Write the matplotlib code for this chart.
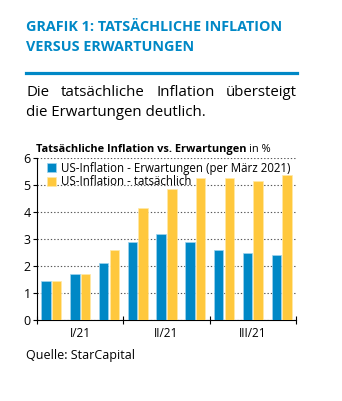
import matplotlib.pyplot as plt
import numpy as np

# Daten (Jan - Sep 2021)
monate = ["Jan", "Feb", "Mär", "Apr", "Mai", "Jun", "Jul", "Aug", "Sep"]
erwartung = [1.43, 1.69, 2.1, 2.89, 3.18, 2.89, 2.59, 2.49, 2.4]
tatsaechlich = [1.43, 1.69, 2.59, 4.15, 4.85, 5.25, 5.25, 5.15, 5.36]
quartale = ["I/21", "II/21", "III/21"]

blau = "#0088c6"
gelb = "#ffc83d"

plt.rcParams["font.family"] = ["Open Sans", "DejaVu Sans"]

fig = plt.figure(figsize=(3.42, 4.01), dpi=100)
renderer = fig.canvas.get_renderer()

# Kopfzeile
fig.text(26/342, 1-27/401, "GRAFIK 1: TATSÄCHLICHE INFLATION", color=blau,
         fontsize=10.4, fontweight="bold", va="center", ha="left")
fig.text(26/342, 1-47/401, "VERSUS ERWARTUNGEN", color=blau,
         fontsize=10.4, fontweight="bold", va="center", ha="left")
fig.add_artist(plt.Line2D([26/342, 297/342], [1-73/401, 1-73/401],
                          color=blau, linewidth=2.3, transform=fig.transFigure))

# Untertitel (erste Zeile im Blocksatz)
woerter = ["Die", "tatsächliche", "Inflation", "übersteigt"]
texte = [fig.text(0, 1-93/401, w, fontsize=10.8, va="center", ha="left")
         for w in woerter]
breiten = [t.get_window_extent(renderer).width for t in texte]
x0, x1 = 26, 297
luecke = (x1 - x0 - sum(breiten)) / (len(woerter) - 1)
x = x0
for t, b in zip(texte, breiten):
    t.set_x(x/342)
    x += b + luecke
fig.text(26/342, 1-113/401, "die Erwartungen deutlich.", fontsize=10.8,
         va="center", ha="left")

# Diagramm
ax = fig.add_axes([37/342, 1-320/401, (296-37)/342, (320-158)/401])
pos = np.arange(len(monate))
w = 0.33
ax.bar(pos - w/2 - 0.02, erwartung, w, color=blau, edgecolor="#9fd3ee",
       linewidth=0.5, label="US-Inflation - Erwartungen (per März 2021)", zorder=3)
ax.bar(pos + w/2 + 0.02, tatsaechlich, w, color=gelb, edgecolor="#ffe9a8",
       linewidth=0.5, label="US-Inflation - tatsächlich", zorder=3)

ax.set_xlim(-0.5, len(monate) - 0.5)
ax.set_ylim(0, 6)
ax.set_yticks(range(7))
ax.yaxis.grid(True, linestyle=(0, (1.2, 1.8)), color="#555555", linewidth=0.8)
ax.set_axisbelow(True)
ax.spines["top"].set_visible(False)
ax.spines["right"].set_visible(False)
ax.tick_params(axis="y", labelsize=9, length=3, pad=1.5)

ax.set_xticks([-0.5, 2.5, 5.5, 8.5])
ax.set_xticklabels([])
ax.set_xticks([1, 4, 7], minor=True)
ax.set_xticklabels(quartale, minor=True)
ax.tick_params(axis="x", which="major", direction="inout", length=6)
ax.tick_params(axis="x", which="minor", length=0, labelsize=8.5, pad=5)

# Diagrammtitel: fetter Teil + "in %"
t1 = ax.text(-0.52, 6.12, "Tatsächliche Inflation vs. Erwartungen", fontsize=7.9,
             fontweight="bold", ha="left", va="bottom")
bb = t1.get_window_extent(renderer)
xe = ax.transData.inverted().transform((bb.x1, bb.y0))[0]
ax.text(xe + 0.08, 6.12, "in %", fontsize=7.9, ha="left", va="bottom")

ax.legend(loc="upper left", bbox_to_anchor=(0.01, 1.02), frameon=False,
          fontsize=8.3, handlelength=0.8, handleheight=0.8, handletextpad=0.5,
          labelspacing=0.05, borderaxespad=0.2)

fig.text(26/342, 1-355/401, "Quelle: StarCapital", fontsize=9,
         va="center", ha="left")

fig.savefig("out.png", dpi=100)
